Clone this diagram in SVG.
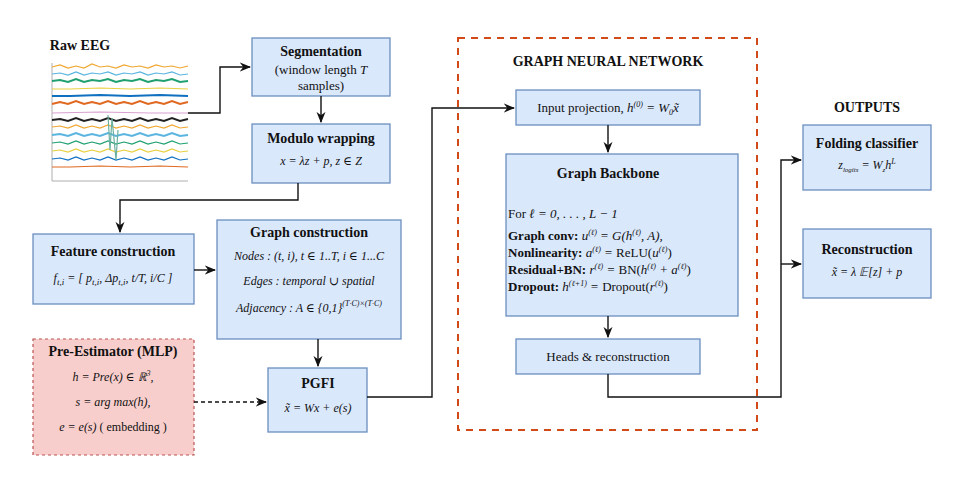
<svg xmlns="http://www.w3.org/2000/svg" width="960" height="490" viewBox="0 0 960 490" font-family="'Liberation Serif', 'Times New Roman', 'DejaVu Serif', serif">
<style>
text{font-family:'Liberation Serif','Times New Roman','DejaVu Serif',serif;fill:#111;text-anchor:middle}
text.s{text-anchor:start}
.b{font-weight:bold;font-size:14px}
.t{font-size:13px}
.m{font-size:12px;font-style:italic}
.n{fill:#dae8fc;stroke:#6c8ebf;stroke-width:1.3}
.c{fill:none;stroke:#111;stroke-width:1.4}
.w{fill:none;stroke-width:1.2}
</style>
<defs><marker id="a" viewBox="0 0 10 10" refX="9" refY="5" markerWidth="8" markerHeight="8" orient="auto"><path d="M0,1 L10,5 L0,9 L3,5z" fill="#111"/></marker></defs>
<rect width="960" height="490" fill="#fff"/>
<rect x="458" y="38" width="299" height="392" fill="none" stroke="#d04a1a" stroke-width="2" stroke-dasharray="7,6"/>
<g id="eeg">
<text x="80" y="50" class="b">Raw EEG</text>
<line x1="52" y1="63" x2="52" y2="181" stroke="#999" stroke-width="0.8"/>
<line x1="52" y1="181" x2="188" y2="181" stroke="#999" stroke-width="0.8"/>
<g class="w">
<polyline stroke="#f0a830" points="52,67 60,65 68,68 76,66 84,68 92,64 100,67 108,66 116,68 124,65 132,67 140,66 148,68 156,65 164,67 172,66 180,68 188,66"/>
<polyline stroke="#5ab4e0" points="52,74 60,73 68,75 76,72 84,75 92,73 100,74 108,72 116,75 124,73 132,74 140,72 148,75 156,73 164,74 172,72 180,75 188,74"/>
<polyline stroke="#20a070" stroke-width="2" points="52,81 60,80 68,82 76,79 84,82 92,80 100,81 108,79 116,82 124,80 132,81 140,79 148,82 156,80 164,81 172,79 180,82 188,81"/>
<polyline stroke="#e8d040" points="52,89 70,89 100,88 130,89 160,88 188,89"/>
<polyline stroke="#1070c0" stroke-width="2" points="52,96 70,96 100,95 130,96 160,95 188,96"/>
<polyline stroke="#e06820" stroke-width="2" points="52,104 60,102 68,104 76,101 84,104 92,102 100,104 108,101 116,104 124,102 132,104 140,101 148,104 156,102 164,104 172,101 180,104 188,102"/>
<polyline stroke="#d8a0d0" points="52,113 100,112 150,113 188,113"/>
<polyline stroke="#222" stroke-width="2" points="52,120 60,119 68,121 76,118 84,121 92,119 100,121 108,118 116,121 124,119 132,121 140,118 148,121 156,119 164,121 172,118 180,121 188,119"/>
<polyline stroke="#f0a830" points="52,127 60,126 68,128 76,125 84,128 92,126 100,128 108,125 116,128 124,126 132,128 140,125 148,128 156,126 164,128 172,125 180,128 188,127"/>
<polyline stroke="#5ab4e0" stroke-width="2" points="52,135 60,134 68,136 76,133 84,136 92,134 100,136 108,133 116,136 124,134 132,136 140,133 148,136 156,134 164,136 172,133 180,136 188,135"/>
<polyline stroke="#20a070" points="52,143 60,142 68,144 76,141 84,144 92,142 100,144 108,141 116,144 124,142 132,144 140,141 148,144 156,142 164,144 172,141 180,144 188,143"/>
<polyline stroke="#e8d040" points="52,151 60,150 68,152 76,149 84,152 92,150 100,152 108,149 116,152 124,150 132,152 140,149 148,152 156,150 164,152 172,149 180,152 188,151"/>
<polyline stroke="#1070c0" points="52,159 60,158 68,160 76,157 84,160 92,158 100,160 108,157 116,160 124,158 132,160 140,157 148,160 156,158 164,160 172,157 180,160 188,159"/>
<polyline stroke="#e06820" points="52,167 70,167 100,166 130,167 160,166 188,167"/>
<polyline stroke="#6ab0a0" points="108,115 110,150 112,118 116,160 118,130"/>
</g>
</g>
<g id="segmentation"><rect class="n" x="252" y="38" width="138" height="58"/>
<text x="321" y="56" class="b">Segmentation</text>
<text x="321" y="74" class="t">(window length <tspan font-style="italic">T</tspan></text>
<text x="321" y="90" class="t">samples)</text></g>
<g id="modulo"><rect class="n" x="252" y="124" width="138" height="59"/>
<text x="321" y="143" class="b">Modulo wrapping</text>
<text x="321" y="165" class="m">x = λz + p, z ∈ Z</text></g>
<g id="feature"><rect class="n" x="33" y="234" width="161" height="70"/>
<text x="113" y="256" class="b">Feature construction</text>
<text x="113" y="282" class="m">f<tspan font-size="9" dy="3">t,i</tspan><tspan dy="-3"> = [ p</tspan><tspan font-size="9" dy="3">t,i</tspan><tspan dy="-3">, Δp</tspan><tspan font-size="9" dy="3">t,i</tspan><tspan dy="-3">, t/T, i/C ]</tspan></text></g>
<g id="graphcons"><rect class="n" x="217" y="220" width="184" height="119"/>
<text x="309" y="237" class="b">Graph construction</text>
<text x="309" y="260" class="m">Nodes : (t, i), t ∈ 1..T, i ∈ 1...C</text>
<text x="309" y="285" class="m">Edges : temporal ∪ spatial</text>
<text x="309" y="312" class="m">Adjacency : A ∈ {0,1}<tspan font-size="8" dy="-6">(T·C)×(T·C)</tspan></text></g>
<g id="preest"><rect x="33" y="339" width="161" height="116" fill="#f8cecc" stroke="#b85450" stroke-width="1.2" stroke-dasharray="3,3"/>
<text x="113" y="356" class="b">Pre-Estimator (MLP)</text>
<text x="113" y="381" class="m">h = Pre(x) ∈ ℝ<tspan font-size="8" dy="-5">3</tspan><tspan dy="5">,</tspan></text>
<text x="113" y="406" class="m">s = arg max(h),</text>
<text x="113" y="431" class="m">e = e(s) <tspan font-style="normal">( embedding )</tspan></text></g>
<g id="pgfi"><rect class="n" x="268" y="368" width="99" height="64"/>
<text x="318" y="388" class="b">PGFI</text>
<text x="318" y="412" class="m">x̃ = Wx + e(s)</text></g>
<g id="gnn-title"><text x="608" y="66" class="b" font-size="13">GRAPH NEURAL NETWORK</text></g>
<g id="inproj"><rect class="n" x="516" y="90" width="184" height="35"/>
<text x="608" y="112" class="t">Input projection,  <tspan font-style="italic">h<tspan font-size="8" dy="-5">(0)</tspan><tspan dy="5"> = W</tspan><tspan font-size="8" dy="3">0</tspan><tspan dy="-3">x̃</tspan></tspan></text></g>
<g id="backbone"><rect class="n" x="506" y="154" width="232" height="162"/>
<text x="608" y="178" class="b">Graph Backbone</text>
<text x="508" y="218" class="t s">For <tspan font-style="italic">ℓ = 0, . . . , L − 1</tspan></text>
<text x="508" y="240" class="t s"><tspan font-weight="bold">Graph conv:</tspan>  <tspan font-style="italic">u<tspan font-size="8" dy="-5">(ℓ)</tspan><tspan dy="5"> = G(h</tspan><tspan font-size="8" dy="-5">(ℓ)</tspan><tspan dy="5">, A),</tspan></tspan></text>
<text x="508" y="257" class="t s"><tspan font-weight="bold">Nonlinearity:</tspan>  <tspan font-style="italic">a<tspan font-size="8" dy="-5">(ℓ)</tspan><tspan dy="5"> = </tspan></tspan>ReLU(<tspan font-style="italic">u<tspan font-size="8" dy="-5">(ℓ)</tspan></tspan><tspan dy="5">)</tspan></text>
<text x="508" y="274" class="t s"><tspan font-weight="bold">Residual+BN:</tspan>  <tspan font-style="italic">r<tspan font-size="8" dy="-5">(ℓ)</tspan><tspan dy="5"> = </tspan></tspan>BN(<tspan font-style="italic">h<tspan font-size="8" dy="-5">(ℓ)</tspan><tspan dy="5"> + a</tspan><tspan font-size="8" dy="-5">(ℓ)</tspan></tspan><tspan dy="5">)</tspan></text>
<text x="508" y="291" class="t s"><tspan font-weight="bold">Dropout:</tspan>  <tspan font-style="italic">h<tspan font-size="8" dy="-5">(ℓ+1)</tspan><tspan dy="5"> = </tspan></tspan>Dropout(<tspan font-style="italic">r<tspan font-size="8" dy="-5">(ℓ)</tspan></tspan><tspan dy="5">)</tspan></text></g>
<g id="heads"><rect class="n" x="516" y="339" width="184" height="35"/>
<text x="608" y="361" class="t">Heads &amp; reconstruction</text></g>
<g id="outputs-title"><text x="867" y="112" class="b">OUTPUTS</text></g>
<g id="folding"><rect class="n" x="803" y="125" width="128" height="65"/>
<text x="867" y="148" class="b" font-size="13">Folding classifier</text>
<text x="867" y="169" class="m" font-size="10">z<tspan font-size="7" dy="3">logits</tspan><tspan dy="-3"> = W</tspan><tspan font-size="7" dy="3">z</tspan><tspan dy="-3">h</tspan><tspan font-size="8" dy="-5">L</tspan></text></g>
<g id="recon"><rect class="n" x="803" y="229" width="128" height="69"/>
<text x="867" y="254" class="b" font-size="13">Reconstruction</text>
<text x="867" y="276" class="m" font-size="10">x̃ = λ 𝔼[z] + p</text></g>
<g id="connectors">
<polyline class="c" points="188,113 220,113 220,67 250,67" marker-end="url(#a)"/>
<line class="c" x1="321" y1="96" x2="321" y2="122" marker-end="url(#a)"/>
<polyline class="c" points="298,183 298,200 120,200 120,232" marker-end="url(#a)"/>
<line class="c" x1="194" y1="270" x2="215" y2="270" marker-end="url(#a)"/>
<line class="c" x1="318" y1="339" x2="318" y2="366" marker-end="url(#a)"/>
<line class="c" x1="194" y1="402" x2="266" y2="402" stroke-dasharray="4,3" marker-end="url(#a)"/>
<polyline class="c" points="367,397 432,397 432,108 514,108" marker-end="url(#a)"/>
<line class="c" x1="608" y1="125" x2="608" y2="152" marker-end="url(#a)"/>
<line class="c" x1="608" y1="316" x2="608" y2="337" marker-end="url(#a)"/>
<polyline class="c" points="608,374 608,397 781,397 781,160 801,160" marker-end="url(#a)"/>
<line class="c" x1="781" y1="264" x2="801" y2="264" marker-end="url(#a)"/>
</g>
</svg>
